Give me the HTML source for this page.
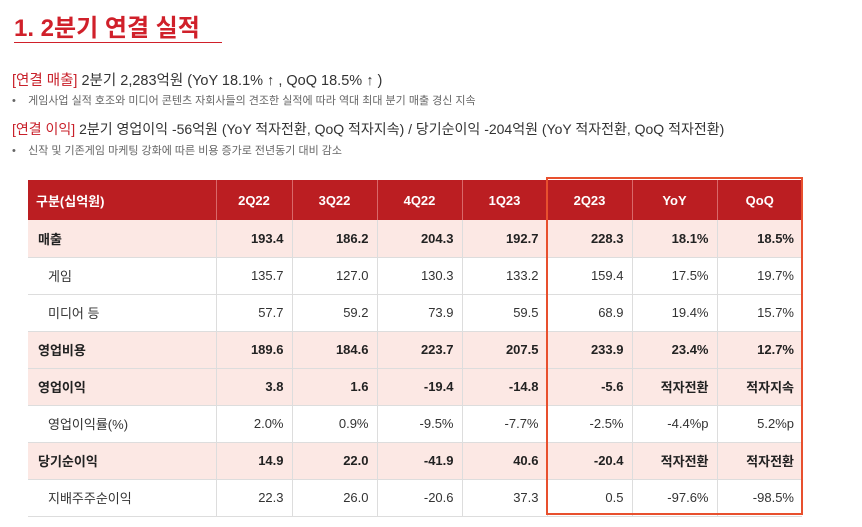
<!DOCTYPE html>
<html><head><meta charset="utf-8"><style>
body{margin:0;width:862px;height:527px;background:#fff;position:relative;overflow:hidden;font-family:"Liberation Sans","Noto Sans CJK KR",sans-serif;}
.t{position:absolute;white-space:nowrap;}
table{position:absolute;left:28px;top:180px;border-collapse:collapse;table-layout:fixed;font-size:13px;color:#333;}
td,th{height:37px;padding:0 8px;border-bottom:1px solid #ddd;border-right:1px solid #ddd;text-align:right;box-sizing:border-box;}
th{background:#bb1e22;color:#fff;height:40px;text-align:center;border-right:1px solid #d9686a;border-bottom:none;font-size:13px;}
th:first-child{text-align:left;font-size:13px;}
td:first-child{text-align:left;padding-left:10px;}
td:last-child,th:last-child{border-right:none;}
tr.p td{background:#fce8e4;font-weight:bold;color:#222;}
tr.s td:first-child{padding-left:20px;}
</style></head><body>
<div class="t" style="left:14px;top:8px;font-size:24px;color:#d0202a;font-weight:bold;">1. 2분기 연결 실적</div>
<div style="position:absolute;left:14px;top:42px;width:208px;height:1px;background:#d0202a;"></div>
<div class="t" style="left:12px;top:69px;font-size:14.5px;color:#333;"><span style="color:#c8202a">[연결 매출]</span> 2분기 2,283억원 (YoY 18.1% ↑ , QoQ 18.5% ↑ )</div>
<div class="t" style="left:12px;top:92px;font-size:11px;color:#666;">•&nbsp;&nbsp;&nbsp;&nbsp;게임사업 실적 호조와 미디어 콘텐츠 자회사들의 견조한 실적에 따라 역대 최대 분기 매출 경신 지속</div>
<div class="t" style="left:12px;top:119px;font-size:14px;color:#333;"><span style="color:#c8202a">[연결 이익]</span> 2분기 영업이익 -56억원 (YoY 적자전환, QoQ 적자지속) / 당기순이익 -204억원 (YoY 적자전환, QoQ 적자전환)</div>
<div class="t" style="left:12px;top:142px;font-size:11px;color:#666;">•&nbsp;&nbsp;&nbsp;&nbsp;신작 및 기존게임 마케팅 강화에 따른 비용 증가로 전년동기 대비 감소</div>
<table>
<colgroup><col style="width:188px"><col style="width:76px"><col style="width:85px"><col style="width:85px"><col style="width:85px"><col style="width:85px"><col style="width:85px"><col style="width:85px"></colgroup>
<tr><th>구분(십억원)</th><th>2Q22</th><th>3Q22</th><th>4Q22</th><th>1Q23</th><th>2Q23</th><th>YoY</th><th>QoQ</th></tr>
<tr class="p"><td>매출</td><td>193.4</td><td>186.2</td><td>204.3</td><td>192.7</td><td>228.3</td><td>18.1%</td><td>18.5%</td></tr>
<tr class="s"><td>게임</td><td>135.7</td><td>127.0</td><td>130.3</td><td>133.2</td><td>159.4</td><td>17.5%</td><td>19.7%</td></tr>
<tr class="s"><td>미디어 등</td><td>57.7</td><td>59.2</td><td>73.9</td><td>59.5</td><td>68.9</td><td>19.4%</td><td>15.7%</td></tr>
<tr class="p"><td>영업비용</td><td>189.6</td><td>184.6</td><td>223.7</td><td>207.5</td><td>233.9</td><td>23.4%</td><td>12.7%</td></tr>
<tr class="p"><td>영업이익</td><td>3.8</td><td>1.6</td><td>-19.4</td><td>-14.8</td><td>-5.6</td><td>적자전환</td><td>적자지속</td></tr>
<tr class="s"><td>영업이익률(%)</td><td>2.0%</td><td>0.9%</td><td>-9.5%</td><td>-7.7%</td><td>-2.5%</td><td>-4.4%p</td><td>5.2%p</td></tr>
<tr class="p"><td>당기순이익</td><td>14.9</td><td>22.0</td><td>-41.9</td><td>40.6</td><td>-20.4</td><td>적자전환</td><td>적자전환</td></tr>
<tr class="s"><td>지배주주순이익</td><td>22.3</td><td>26.0</td><td>-20.6</td><td>37.3</td><td>0.5</td><td>-97.6%</td><td>-98.5%</td></tr>
</table>
<div style="position:absolute;left:546px;top:177px;width:257px;height:338px;border:2px solid #e8502e;box-sizing:border-box;"></div>
</body></html>
